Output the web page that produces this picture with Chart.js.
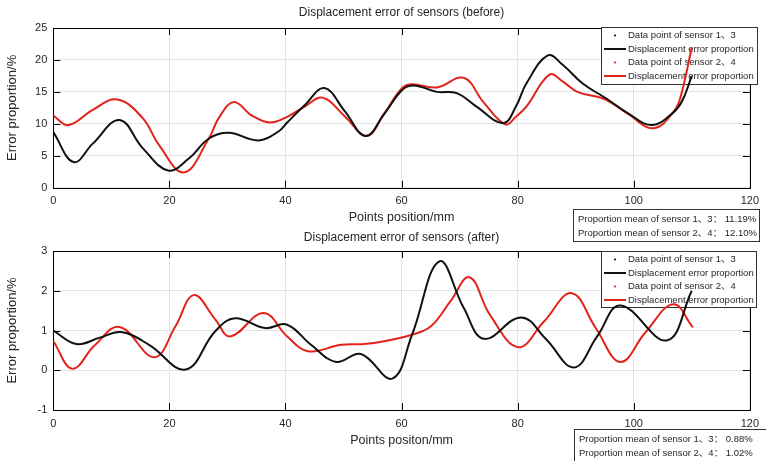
<!DOCTYPE html>
<html><head><meta charset="utf-8">
<script src="https://cdn.jsdelivr.net/npm/chart.js@4/dist/chart.umd.min.js"></script>
<style>
html,body{margin:0;padding:0;background:#fff;width:766px;height:461px;overflow:hidden}
#c1{position:absolute;left:0;top:0}
#c2{position:absolute;left:0;top:230px}
</style></head><body>
<canvas id="c1" width="766" height="245"></canvas>
<canvas id="c2" width="766" height="231"></canvas>
<script>
// ---------- data ----------
const topTitle = "Displacement error of sensors (before)";
const bottomTitle = "Displacement error of sensors (after)";
const topXLabel = "Points position/mm";
const bottomXLabel = "Points positon/mm";
const yLabel = "Error proportion/%";
const legendLabels = ["Data point of sensor 1、3", "Displacement error proportion", "Data point of sensor 2、4", "Displacement error proportion"];
const topStats = ["Proportion mean of sensor 1、3： 11.19%", "Proportion mean of sensor 2、4： 12.10%"];
const bottomStats = ["Proportion mean of sensor 1、3： 0.88%", "Proportion mean of sensor 2、4： 1.02%"];
const xTicks = [0, 20, 40, 60, 80, 100, 120];
const topYTicks = [0, 5, 10, 15, 20, 25];
const bottomYTicks = [-1, 0, 1, 2, 3];

const topS13X = [0, 3.5, 6.8, 11.4, 15.4, 19.8, 23.4, 26.8, 30.2, 35.3, 38.8, 40.3, 43.3, 46.7, 50.2, 53.8, 57.0, 60.1, 62.1, 66.1, 69.5, 72.9, 77.5, 79.7, 81.5, 85.2, 87.8, 91.2, 95.2, 99.1, 103.1, 106.6, 108.3, 110];
const topS13Y = [8.7, 4.0, 6.9, 10.6, 6.2, 2.7, 4.6, 7.7, 8.6, 7.4, 8.8, 10.2, 12.9, 15.6, 12.0, 8.1, 11.5, 15.3, 16.0, 15.0, 14.8, 12.7, 10.1, 12.7, 16.3, 20.7, 19.2, 16.3, 14.0, 11.6, 9.8, 11.6, 13.5, 17.5];
const topS24X = [0, 2.6, 6.8, 11.0, 15.4, 18.2, 22.5, 26.8, 28.5, 31.1, 34.2, 37.3, 40.3, 43.3, 46.4, 50.2, 54.0, 57.0, 60.1, 61.8, 66.1, 70.7, 74.1, 77.9, 79.7, 81.5, 85.5, 87.8, 90.3, 94.6, 96.3, 99.1, 103.4, 107.1, 108.3, 110];
const topS24Y = [11.3, 9.8, 12.2, 13.8, 10.9, 6.7, 2.4, 7.7, 10.9, 13.4, 11.3, 10.2, 11.1, 12.7, 14.1, 11.2, 8.1, 11.6, 15.6, 16.2, 15.7, 17.2, 13.4, 9.9, 11.1, 12.7, 17.7, 16.6, 15.0, 14.0, 13.2, 11.5, 9.3, 12.2, 15.0, 22.0];

const botS13X = [0, 4.0, 8.0, 11.7, 16.5, 22.8, 27.9, 31.3, 36.5, 40.2, 44.4, 48.7, 53.0, 58.4, 61.8, 66.5, 70.7, 74.2, 80.6, 84.9, 89.7, 93.7, 97.7, 105.7, 110];
const botS13Y = [1.0, 0.66, 0.82, 0.96, 0.64, 0.02, 0.98, 1.31, 1.06, 1.15, 0.64, 0.21, 0.41, -0.21, 0.89, 2.74, 1.57, 0.79, 1.33, 0.78, 0.07, 0.85, 1.63, 0.75, 2.0];
const botS24X = [0, 3.3, 7.1, 11.4, 17.4, 21.1, 24.2, 27.9, 30.5, 36.2, 40.3, 43.9, 49.6, 53.6, 57.0, 61.5, 65.0, 68.4, 71.7, 75.2, 80.1, 84.5, 89.3, 93.5, 97.7, 102.0, 106.8, 110.2];
const botS24Y = [0.73, 0.04, 0.62, 1.09, 0.33, 1.12, 1.89, 1.28, 0.85, 1.44, 0.85, 0.48, 0.64, 0.66, 0.73, 0.88, 1.10, 1.73, 2.34, 1.40, 0.58, 1.22, 1.94, 1.05, 0.21, 0.95, 1.66, 1.08];

// ---------- styling ----------
const BLACK = '#111111';
const RED = '#e2231a';
const FONT = '"Liberation Sans", Arial, "Noto Sans CJK SC", sans-serif';
const TXT = '#262626';

function pts(xs, ys){ return xs.map((x,i)=>({x:x, y:ys[i]})); }

function decor(cfg){
  return {
    id:'decor',
    beforeDatasetsDraw(chart){
      const ctx = chart.ctx, a = chart.chartArea;
      const xs = chart.scales.x, ys = chart.scales.y;
      ctx.save();
      ctx.strokeStyle = '#000'; ctx.lineWidth = 1;
      ctx.beginPath();
      xTicks.forEach(v=>{
        const px = Math.round(xs.getPixelForValue(v))+0.5;
        ctx.moveTo(px, a.bottom); ctx.lineTo(px, a.bottom-7);
        ctx.moveTo(px, a.top); ctx.lineTo(px, a.top+7);
      });
      cfg.yTicks.forEach(v=>{
        const py = Math.round(ys.getPixelForValue(v))+0.5;
        ctx.moveTo(a.left, py); ctx.lineTo(a.left+7, py);
        ctx.moveTo(a.right, py); ctx.lineTo(a.right-7, py);
      });
      ctx.stroke();
      ctx.strokeRect(Math.round(a.left)+0.5, Math.round(a.top)+0.5, Math.round(a.right-a.left), Math.round(a.bottom-a.top));
      const L = cfg.legend;
      ctx.fillStyle = '#fff';
      ctx.fillRect(L.x, L.y, L.w, L.h);
      ctx.strokeStyle = '#333';
      ctx.strokeRect(L.x+0.5, L.y+0.5, L.w, L.h);
      ctx.font = '9.5px ' + FONT;
      ctx.textBaseline = 'middle'; ctx.textAlign = 'left';
      const colors = [BLACK, BLACK, RED, RED];
      legendLabels.forEach((t,i)=>{
        const yy = L.y + 8.5 + i*13.5;
        if (i % 2 === 0){
          ctx.fillStyle = colors[i];
          ctx.beginPath(); ctx.arc(L.x+14, yy, 1.1, 0, Math.PI*2); ctx.fill();
        } else {
          ctx.strokeStyle = colors[i]; ctx.lineWidth = 2;
          ctx.beginPath(); ctx.moveTo(L.x+3, yy); ctx.lineTo(L.x+25, yy); ctx.stroke();
        }
        ctx.fillStyle = TXT;
        ctx.fillText(t, L.x+27, yy);
      });
      ctx.restore();
    },
    afterDraw(chart){
      const ctx = chart.ctx, a = chart.chartArea;
      ctx.save();
      const cx = (a.left + a.right)/2;
      ctx.fillStyle = TXT;
      ctx.textAlign = 'center'; ctx.textBaseline = 'middle';
      ctx.font = '12px ' + FONT;
      ctx.fillText(cfg.title, cx, cfg.titleY);
      ctx.font = '12.5px ' + FONT;
      ctx.fillText(cfg.xLabel, cx, cfg.xLabelY);
      ctx.save();
      ctx.translate(12, (a.top + a.bottom)/2);
      ctx.rotate(-Math.PI/2);
      ctx.font = '13px ' + FONT;
      ctx.fillText(yLabel, 0, 0);
      ctx.restore();
      const S = cfg.stats;
      ctx.fillStyle = '#fff';
      ctx.fillRect(S.x, S.y, S.w, S.h);
      ctx.strokeStyle = '#333'; ctx.lineWidth = 1;
      ctx.strokeRect(S.x+0.5, S.y+0.5, S.w, S.h);
      ctx.fillStyle = TXT; ctx.textAlign = 'left';
      ctx.font = '9.5px ' + FONT;
      S.lines.forEach((t,i)=>{ ctx.fillText(t, S.x+5, S.y+10.5+i*14); });
      ctx.restore();
    }
  };
}

function makeChart(id, cfg){
  const H = document.getElementById(id).height;
  return new Chart(document.getElementById(id), {
    type:'line',
    data:{datasets:[
      {data:pts(cfg.x1, cfg.y1), borderColor:BLACK, borderWidth:2, pointRadius:0, tension:0.4, fill:false},
      {data:pts(cfg.x2, cfg.y2), borderColor:RED, borderWidth:2, pointRadius:0, tension:0.4, fill:false}
    ]},
    options:{
      responsive:false, animation:false, devicePixelRatio:1,
      layout:{padding:{left:0, right:10.5, top:cfg.top, bottom:H - cfg.bottom - 30}},
      plugins:{legend:{display:false}, tooltip:{enabled:false}, title:{display:false}},
      scales:{
        x:{type:'linear', min:0, max:120,
          afterBuildTicks(s){ s.ticks = xTicks.map(v=>({value:v})); },
          afterFit(s){ s.height = 30; },
          grid:{color:'#e3e3e3', drawTicks:false},
          border:{display:false},
          ticks:{padding:7, color:TXT, font:{family:FONT, size:11}, maxRotation:0}
        },
        y:{type:'linear', min:cfg.yTicks[0], max:cfg.yTicks[cfg.yTicks.length-1],
          afterBuildTicks(s){ s.ticks = cfg.yTicks.map(v=>({value:v})); },
          afterFit(s){ s.width = 53.3; },
          grid:{color:'#e3e3e3', drawTicks:false},
          border:{display:false},
          ticks:{padding:6, color:TXT, font:{family:FONT, size:11}}
        }
      }
    },
    plugins:[decor(cfg)]
  });
}

makeChart('c1', {
  x1:topS13X, y1:topS13Y, x2:topS24X, y2:topS24Y,
  yTicks:topYTicks, top:28, bottom:187.7,
  title:topTitle, titleY:12.5, xLabel:topXLabel, xLabelY:217.5,
  legend:{x:601, y:27, w:156, h:57},
  stats:{x:573, y:209, w:186, h:32, lines:topStats}
});
makeChart('c2', {
  x1:botS13X, y1:botS13Y, x2:botS24X, y2:botS24Y,
  yTicks:bottomYTicks, top:21, bottom:180,
  title:bottomTitle, titleY:8, xLabel:bottomXLabel, xLabelY:210.7,
  legend:{x:601, y:21, w:155, h:56},
  stats:{x:574, y:199, w:195, h:40, lines:bottomStats}
});
</script>
</body></html>
